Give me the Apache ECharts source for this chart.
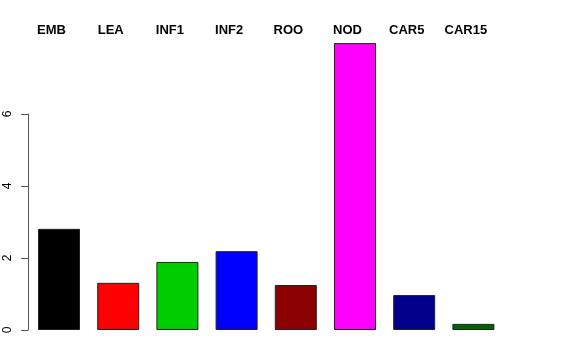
<!DOCTYPE html>
<html>
<head>
<meta charset="utf-8">
<script src="https://cdn.jsdelivr.net/npm/echarts@6/dist/echarts.min.js"></script>
<style>html,body{margin:0;padding:0;background:#fff}#c{width:576px;height:360px}</style>
</head>
<body>
<div id="c"></div>
<script>
var categories = ['EMB','LEA','INF1','INF2','ROO','NOD','CAR5','CAR15'];
var values = [2.81, 1.31, 1.89, 2.19, 1.25, 7.97, 0.97, 0.17];
var colors = ['#000000','#FF0000','#00CD00','#0000FF','#8B0000','#FF00FF','#00008B','#006400'];
var yTicks = [0, 2, 4, 6];

var chart = echarts.init(document.getElementById('c'), null, {renderer:'canvas'});
chart.setOption({
  animation: false,
  backgroundColor: '#ffffff',
  grid: [
    {left: 29.4, width: 473.6, top: 42, bottom: 30},
    {left: 28, width: 10, top: 114, bottom: 30},
    {left: 21.9, width: 473.6, top: 37, height: 1}
  ],
  xAxis: [
    {type:'category', gridIndex:0, data: categories, show:false},
    {type:'value', gridIndex:1, show:false},
    {type:'category', gridIndex:2, data: categories, position:'top',
     axisLine:{show:false}, axisTick:{show:false},
     axisLabel:{show:true, margin:0, color:'#000', fontFamily:'Liberation Sans, Arial, sans-serif', fontWeight:'bold', fontSize:13}}
  ],
  yAxis: [
    {type:'value', gridIndex:0, min:0, max:8, show:false},
    {type:'value', gridIndex:1, min:yTicks[0], max:yTicks[yTicks.length-1], interval:2,
     axisLine:{show:true, lineStyle:{color:'#555', width:1}},
     axisTick:{show:true, length:7, lineStyle:{color:'#555'}},
     splitLine:{show:false},
     axisLabel:{show:true, rotate:90, margin:14, color:'#000', fontFamily:'Liberation Sans, Arial, sans-serif', fontSize:12}},
    {type:'value', gridIndex:2, show:false}
  ],
  series: [{
    type:'bar', xAxisIndex:0, yAxisIndex:0, barWidth:42,
    data: values.map(function(v,i){return {value:v, itemStyle:{color:colors[i]}};}),
    itemStyle:{borderColor:'#222', borderWidth:1}
  }]
});
</script>
</body>
</html>
